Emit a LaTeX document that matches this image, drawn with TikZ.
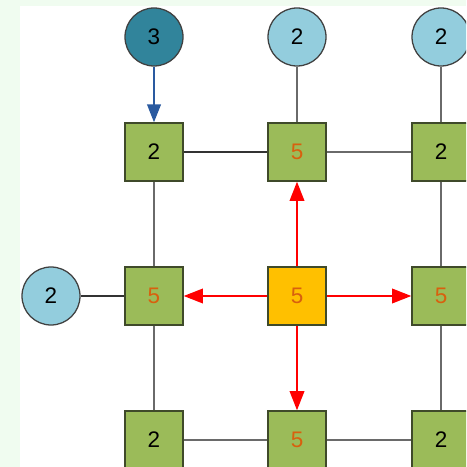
\documentclass[tikz,border=0pt]{standalone}
\usepackage{fontspec}
\setmainfont{Liberation Sans}
\usepackage{xcolor}
\usetikzlibrary{arrows.meta, positioning}

\definecolor{cellgreen}{HTML}{9BBB59}
\definecolor{cellborder}{HTML}{3F4A2A}
\definecolor{srcorange}{HTML}{FFC000}
\definecolor{lightblue}{HTML}{93CDDD}
\definecolor{darkteal}{HTML}{31849B}
\definecolor{numorange}{HTML}{D8600E}
\definecolor{mintbg}{HTML}{F0FCF0}
\definecolor{linkgray}{HTML}{6A6A6A}
\definecolor{arrowblue}{HTML}{2A5AA0}

\begin{document}
\begin{tikzpicture}[
  cell/.style={rectangle, draw=cellborder, line width=0.9pt, fill=cellgreen,
    minimum width=1.45cm, minimum height=1.45cm, inner sep=0pt,
    font=\fontsize{16}{19}\selectfont},
  hot/.style={cell, text=numorange},
  source/.style={hot, fill=srcorange},
  port/.style={circle, draw=black!75, line width=0.9pt, fill=lightblue,
    minimum size=1.45cm, inner sep=0pt, font=\fontsize{16}{19}\selectfont},
  root/.style={port, fill=darkteal},
  link/.style={line width=1.4pt, linkgray},
  darklink/.style={line width=1.4pt, black!80},
  spread/.style={-{Triangle[length=0.48cm, width=0.36cm]}, line width=1.6pt, red},
  feed/.style={-{Triangle[length=0.45cm, width=0.34cm]}, line width=1.5pt, arrowblue},
]
% ====== CANVAS ======
\useasboundingbox (0,0) rectangle (11.65,-11.675);
\clip (0,0) rectangle (11.65,-11.675);
\fill[mintbg] (0,0) rectangle (11.65,-11.675);
\fill[white] (0.5,-0.15) rectangle (11.65,-11.675);
%
% ====== GRID CELLS ======
\node[cell] (s11) at (3.85, -3.8) {2};
\node[hot] (s12) at (7.425, -3.8) {5};
\node[cell] (s13) at (11.025, -3.8) {2};
\node[hot] (s21) at (3.85, -7.4) {5};
\node[source] (s22) at (7.425, -7.4) {5};
\node[hot] (s23) at (11.025, -7.4) {5};
\node[cell] (s31) at (3.85, -11.0) {2};
\node[hot] (s32) at (7.425, -11.0) {5};
\node[cell] (s33) at (11.025, -11.0) {2};
%
% ====== BORDER PORTS ======
\node[root] (p_top1) at (3.85, -0.925) {3};
\node[port] (p_top2) at (7.425, -0.925) {2};
\node[port] (p_top3) at (11.025, -0.925) {2};
\node[port] (p_left) at (1.275, -7.4) {2};
%
% ====== LINKS ======
\draw[darklink] (s11) -- (s12);
\draw[link] (s12) -- (s13);
\draw[link] (s11) -- (s21);
\draw[link] (s21) -- (s31);
\draw[link] (s13) -- (s23);
\draw[link] (s23) -- (s33);
\draw[link] (s31) -- (s32);
\draw[link] (s32) -- (s33);
\draw[link] (p_top2) -- (s12);
\draw[link] (p_top3) -- (s13);
\draw[darklink] (p_left) -- (s21);
\draw[feed] (p_top1) -- (s11);
%
% ====== SPREAD FROM SOURCE ======
\draw[spread] (s22) -- (s12);
\draw[spread] (s22) -- (s21);
\draw[spread] (s22) -- (s23);
\draw[spread] (s22) -- (s32);
\end{tikzpicture}
\end{document}
